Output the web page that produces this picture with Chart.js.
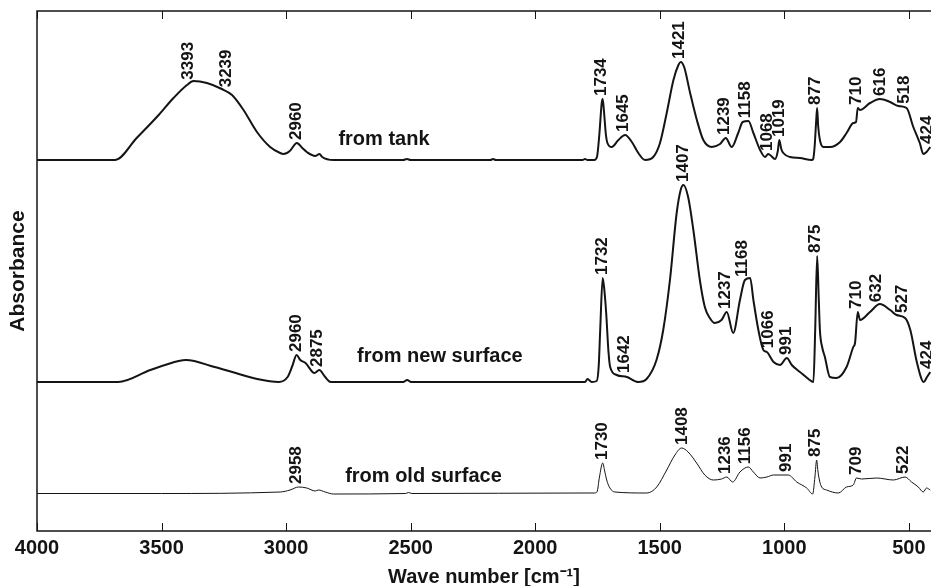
<!DOCTYPE html>
<html><head><meta charset="utf-8">
<script src="https://cdn.jsdelivr.net/npm/chart.js@4"></script>
<style>html,body{margin:0;padding:0;background:#fff;overflow:hidden}#wrap{width:931px;height:586px;position:relative}</style>
</head><body><div id="wrap"><canvas id="c"></canvas></div>
<script>
// ---- data (wavenumber in cm^-1, absorbance in arbitrary offset units) ----
const tankWn = [4000,3850,3686,3600,3519,3452,3398,3372,3318,3258,
  3217,3171,3117,3064,3024,3010,2985,2957,2935,2917,
  2883,2866,2855,2810,2530,2515,2500,2180,2169,2158,
  1810,1800,1790,1763,1752,1742,1733,1729,1724,1716,
  1710,1693,1666,1639,1612,1586,1559,1526,1499,1472,
  1445,1425,1416,1402,1378,1351,1325,1291,1258,1235,
  1211,1185,1167,1144,1124,1097,1077,1065,1057,1037,
  1026,1020,1012,1004,977,937,890,884,878,872,
  868,864,857,843,816,776,750,723,712,705,
  696,656,616,575,542,509,482,456,442,429,
  414];
const tankAbs = [371,371,371,393,414,433,446,450,448,442,
  436,421,399,384,378,377,380,388,383,379,
  375,377,374,371,371,372,371,371,372,371,
  371,372,371,371,374,398,428,432,420,396,
  388,384,391,396,389,378,371,374,388,418,
  451,466,469,464,438,411,391,384,387,393,
  384,398,409,410,398,381,374,377,376,372,
  380,391,382,378,374,373,371,372,385,410,
  423,405,391,384,384,389,398,408,409,423,
  421,428,432,429,425,423,404,388,377,379,
  384];

const newWn = [4000,3674,3545,3431,3402,3287,3216,3116,3029,2994,
  2975,2958,2943,2922,2886,2867,2843,2821,2530,2514,
  2498,1800,1790,1773,1753,1745,1739,1729,1722,1715,
  1706,1699,1673,1632,1586,1553,1513,1486,1459,1432,
  1416,1405,1386,1365,1339,1319,1299,1279,1252,1231,
  1205,1178,1158,1137,1124,1104,1084,1070,1043,1017,
  990,970,937,903,883,876,868,862,857,848,
  837,817,790,750,723,716,705,696,656,616,
  575,549,515,494,467,440,427,414];
const newAbs = [149,149,161,170,171,164,159,152,149,154,
  165,176,171,168,158,161,154,149,149,151,
  149,149,152,149,150,165,201,253,240,218,
  180,164,156,154,149,152,171,201,251,318,
  341,346,334,301,251,224,213,208,211,219,
  198,231,251,253,231,201,181,179,169,166,
  173,166,159,152,149,200,275,235,201,184,
  174,154,153,164,184,188,219,211,219,227,
  221,216,213,201,168,149,154,159];

const oldWn = [4000,3500,3024,2984,2950,2917,2883,2870,2843,2810,
  2520,2509,2495,1800,1763,1752,1742,1729,1721,1713,
  1700,1680,1552,1512,1472,1439,1412,1386,1352,1319,
  1285,1252,1231,1207,1178,1144,1124,1097,1070,1043,
  1017,984,950,910,886,877,870,865,859,850,
  830,783,750,723,710,690,629,562,515,489,
  462,442,429,414];
const oldAbs = [37.5,37.5,39,41,44,43,40,41,39,37,
  37.5,38.5,37.5,38,38,39,54,68,60,51,
  43,39,38,44,61,76,83,79,68,56,
  51,52,54,49,59,64,59,53,54,56,
  56,56,49,43,37,54,71,60,51,44,
  41,38,44,46,53,52,53,51,54,49,
  44,39,43,41];

const tankPeaks = ['3393','3239','2960','1734','1645','1421','1239','1158','1068','1019','877','710','616','518','424'];
const newPeaks  = ['2960','2875','1732','1642','1407','1237','1168','1066','991','875','710','632','527','424'];
const oldPeaks  = ['2958','1730','1408','1236','1156','991','875','709','522'];

const seriesNames = ['from tank', 'from new surface', 'from old surface'];
const nameAnchorWn = [2790, 2715, 2763];
const nameAnchorAbs = [386, 169, 49];

const xTicks = [4000,3500,3000,2500,2000,1500,1000,500];

// ---- helpers ----
const FONT = "'Liberation Sans', Arial, Helvetica, sans-serif";
const INK = '#141414';
function toPoints(wn, ab){ return wn.map((w,i)=>({x:w, y:ab[i]})); }
function interp(wn, ab, w){
  for (let i=0;i<wn.length-1;i++){
    if (w<=wn[i] && w>=wn[i+1]) { const t=(wn[i]-w)/(wn[i]-wn[i+1]); return ab[i]+(ab[i+1]-ab[i])*t; }
  }
  return ab[ab.length-1];
}
function peakTop(wn, ab, w){ let m=-Infinity; for (let d=-10; d<=10; d++){ m=Math.max(m, interp(wn,ab,w+d)); } return m; }

const groups = [
  {wn:tankWn, ab:tankAbs, labels:tankPeaks},
  {wn:newWn, ab:newAbs, labels:newPeaks},
  {wn:oldWn, ab:oldAbs, labels:oldPeaks}
];

const annot = {
  id:'annot',
  afterDatasetsDraw(chart){
    const {ctx, chartArea:a, scales:{x,y}} = chart;
    ctx.save();
    ctx.strokeStyle = INK; ctx.lineWidth = 1.5;
    ctx.beginPath();
    ctx.moveTo(a.right+3, a.top); ctx.lineTo(a.left, a.top); ctx.lineTo(a.left, a.bottom); ctx.lineTo(a.right+3, a.bottom);
    ctx.stroke();
    ctx.lineWidth = 1;
    x.ticks.forEach(t=>{
      const px = Math.round(x.getPixelForValue(t.value))+0.5;
      ctx.beginPath();
      ctx.moveTo(px, a.bottom); ctx.lineTo(px, a.bottom-8);
      ctx.moveTo(px, a.top); ctx.lineTo(px, a.top+8);
      ctx.stroke();
    });
    ctx.fillStyle = INK;
    ctx.font = 'bold 17px ' + FONT;
    ctx.textAlign = 'left'; ctx.textBaseline = 'middle';
    groups.forEach(g=>{
      g.labels.forEach(lbl=>{
        const w = parseFloat(lbl);
        const v = peakTop(g.wn, g.ab, w);
        const px = x.getPixelForValue(w);
        const py = y.getPixelForValue(v) - 3;
        ctx.save(); ctx.translate(px, py); ctx.rotate(-Math.PI/2); ctx.fillText(lbl, 0, 0); ctx.restore();
      });
    });
    ctx.font = 'bold 20px ' + FONT;
    ctx.textBaseline = 'alphabetic';
    seriesNames.forEach((n,i)=>{
      ctx.fillText(n, x.getPixelForValue(nameAnchorWn[i]), y.getPixelForValue(nameAnchorAbs[i]));
    });
    ctx.restore();
  }
};

const lineStyle = (bw)=>({borderColor:INK, borderWidth:bw, pointRadius:0, fill:false, cubicInterpolationMode:'monotone'});

new Chart(document.getElementById('c'), {
  type:'line',
  data:{ datasets:[
    Object.assign({label:seriesNames[0], data:toPoints(tankWn,tankAbs)}, lineStyle(2)),
    Object.assign({label:seriesNames[1], data:toPoints(newWn,newAbs)}, lineStyle(2)),
    Object.assign({label:seriesNames[2], data:toPoints(oldWn,oldAbs)}, lineStyle(1))
  ]},
  options:{
    responsive:true, maintainAspectRatio:false, animation:false, devicePixelRatio:1,
    layout:{padding:{top:11, right:0, left:0, bottom:0}},
    plugins:{legend:{display:false}, tooltip:{enabled:false}},
    scales:{
      x:{
        type:'linear', reverse:true, min:411, max:4000,
        afterBuildTicks(scale){ scale.ticks = xTicks.map(v=>({value:v})); },
        afterFit(scale){ scale.height = 55; },
        grid:{display:false, drawTicks:false},
        border:{display:false},
        ticks:{font:{family:FONT, size:20, weight:'bold'}, color:INK, padding:5, maxRotation:0, autoSkip:false,
               callback:(v)=>String(v)},
        title:{display:true, text:'Wave number [cm\u207B\u00B9]', font:{family:FONT, size:20, weight:'bold', lineHeight:0.9}, color:INK, padding:{top:0,bottom:0}}
      },
      y:{
        min:0, max:520,
        afterFit(scale){ scale.width = 37; },
        grid:{display:false, drawTicks:false},
        border:{display:false},
        ticks:{display:false},
        title:{display:true, text:'Absorbance', font:{family:FONT, size:21, weight:'bold', lineHeight:1.2}, color:INK, padding:{top:6,bottom:0}}
      }
    }
  },
  plugins:[annot]
});
</script>
</body></html>
